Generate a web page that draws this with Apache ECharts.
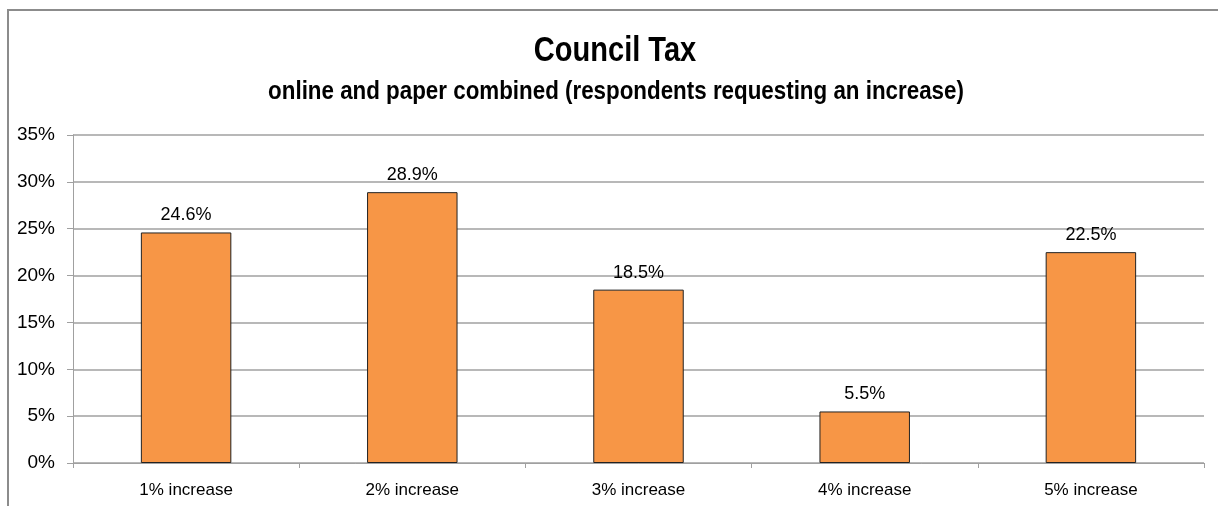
<!DOCTYPE html>
<html>
<head>
<meta charset="utf-8">
<script src="https://cdn.jsdelivr.net/npm/echarts@6/dist/echarts.min.js"></script>
<style>html,body{margin:0;padding:0;background:#fff;}#c{width:1218px;height:506px;}</style>
</head>
<body>
<div id="c"></div>
<script>
const categories = ['1% increase', '2% increase', '3% increase', '4% increase', '5% increase'];
const values = [24.6, 28.9, 18.5, 5.5, 22.5];
const titleText = 'Council Tax';
const subtitleText = 'online and paper combined (respondents requesting an increase)';

const sans = "'Liberation Sans', Arial, sans-serif";
const chart = echarts.init(document.getElementById('c'));
chart.setOption({
  animation: false,
  backgroundColor: '#fff',
  graphic: [{
    type: 'polyline',
    shape: { points: [[8, 506], [8, 10], [1230, 10]] },
    style: { stroke: '#8c8c8c', lineWidth: 2, fill: null },
    silent: true
  }, {
    type: 'text',
    x: 615, y: 51, scaleX: 0.83,
    style: { text: titleText, font: "bold 35px 'Liberation Sans', Arial, sans-serif", fill: '#000', textAlign: 'center', textVerticalAlign: 'middle' },
    silent: true
  }, {
    type: 'text',
    x: 616, y: 92, scaleX: 0.86,
    style: { text: subtitleText, font: "bold 26px 'Liberation Sans', Arial, sans-serif", fill: '#000', textAlign: 'center', textVerticalAlign: 'middle' },
    silent: true
  }],
  grid: { left: 73, right: 14, top: 135, bottom: 43 },
  xAxis: {
    type: 'category',
    data: categories,
    axisLine: { lineStyle: { color: '#a0a0a0', width: 1 } },
    axisTick: { show: true, length: 5, alignWithLabel: false, lineStyle: { color: '#a0a0a0' } },
    axisLabel: { fontFamily: sans, fontSize: 17, color: '#000', margin: 19 }
  },
  yAxis: {
    type: 'value',
    min: 0, max: 35, interval: 5,
    axisLine: { show: true, lineStyle: { color: '#a0a0a0', width: 1 } },
    axisTick: { show: true, length: 6, lineStyle: { color: '#a0a0a0' } },
    axisLabel: { formatter: '{value}%', fontFamily: sans, fontSize: 19, color: '#000', margin: 18 },
    splitLine: { lineStyle: { color: '#a0a0a0', width: 1.5 } }
  },
  series: [{
    type: 'bar',
    data: values,
    barWidth: '40%',
    itemStyle: { color: '#F79646', borderColor: '#222', borderWidth: 1 },
    label: {
      show: true, position: 'top', distance: 8,
      formatter: p => p.value.toFixed(1) + '%',
      fontFamily: sans, fontSize: 18, color: '#000'
    }
  }]
});
</script>
</body>
</html>
